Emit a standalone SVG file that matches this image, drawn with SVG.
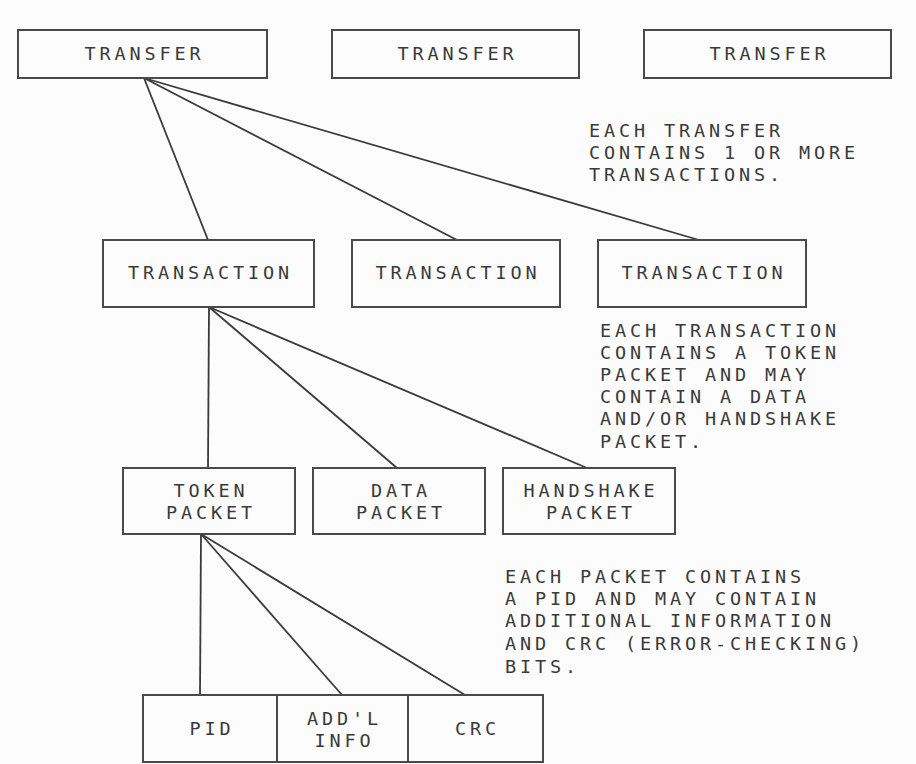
<svg xmlns="http://www.w3.org/2000/svg" width="916" height="764" viewBox="0 0 916 764">
<style>
.bg{fill:#fcfcfc}
.box{fill:none;stroke:#4a4a4a;stroke-width:2}
.ln{stroke:#3a3a3a;stroke-width:1.8;fill:none}
text{font-family:"DejaVu Sans Mono","Liberation Mono",monospace;font-size:18.5px;letter-spacing:3.86px;fill:#3a3a3a}
.c{text-anchor:middle}
</style>
<rect class="bg" x="0" y="0" width="916" height="764"/>
<g id="connectors">
<line class="ln" x1="144" y1="78" x2="208" y2="240"/>
<line class="ln" x1="144" y1="78" x2="457" y2="240"/>
<line class="ln" x1="144" y1="78" x2="699" y2="240"/>
<line class="ln" x1="209" y1="307" x2="208" y2="468"/>
<line class="ln" x1="209" y1="307" x2="397" y2="468"/>
<line class="ln" x1="209" y1="307" x2="587" y2="468"/>
<line class="ln" x1="201" y1="534" x2="200" y2="695"/>
<line class="ln" x1="201" y1="534" x2="342" y2="695"/>
<line class="ln" x1="201" y1="534" x2="465" y2="695"/>
</g>
<g id="transfer1"><rect class="box" x="18" y="30" width="249" height="48"/><text class="c" x="144.5" y="60">TRANSFER</text></g>
<g id="transfer2"><rect class="box" x="332" y="30" width="247" height="48"/><text class="c" x="457.5" y="60">TRANSFER</text></g>
<g id="transfer3"><rect class="box" x="644" y="30" width="247" height="48"/><text class="c" x="769.5" y="60">TRANSFER</text></g>
<g id="note1"><text x="589" y="137">EACH TRANSFER</text><text x="589" y="159">CONTAINS 1 OR MORE</text><text x="589" y="181">TRANSACTIONS.</text></g>
<g id="transaction1"><rect class="box" x="103" y="240" width="211" height="67"/><text class="c" x="210.5" y="279">TRANSACTION</text></g>
<g id="transaction2"><rect class="box" x="352" y="240" width="208" height="67"/><text class="c" x="458" y="279">TRANSACTION</text></g>
<g id="transaction3"><rect class="box" x="598" y="240" width="208" height="67"/><text class="c" x="704" y="279">TRANSACTION</text></g>
<g id="note2"><text x="600" y="337">EACH TRANSACTION</text><text x="600" y="359">CONTAINS A TOKEN</text><text x="600" y="381">PACKET AND MAY</text><text x="600" y="403">CONTAIN A DATA</text><text x="600" y="425">AND/OR HANDSHAKE</text><text x="600" y="448">PACKET.</text></g>
<g id="token"><rect class="box" x="123" y="468" width="172" height="66"/><text class="c" x="211" y="497">TOKEN</text><text class="c" x="211" y="519">PACKET</text></g>
<g id="data"><rect class="box" x="313" y="468" width="172" height="66"/><text class="c" x="401" y="497">DATA</text><text class="c" x="401" y="519">PACKET</text></g>
<g id="handshake"><rect class="box" x="503" y="468" width="172" height="66"/><text class="c" x="591" y="497">HANDSHAKE</text><text class="c" x="591" y="519">PACKET</text></g>
<g id="note3"><text x="505" y="583">EACH PACKET CONTAINS</text><text x="505" y="605">A PID AND MAY CONTAIN</text><text x="505" y="627">ADDITIONAL INFORMATION</text><text x="505" y="650">AND CRC (ERROR-CHECKING)</text><text x="505" y="673">BITS.</text></g>
<g id="pid"><rect class="box" x="143" y="695" width="134" height="67"/><text class="c" x="212" y="735">PID</text></g>
<g id="addl"><rect class="box" x="277" y="695" width="131" height="67"/><text class="c" x="344.5" y="725">ADD'L</text><text class="c" x="344.5" y="747">INFO</text></g>
<g id="crc"><rect class="box" x="408" y="695" width="135" height="67"/><text class="c" x="477.5" y="735">CRC</text></g>
</svg>
